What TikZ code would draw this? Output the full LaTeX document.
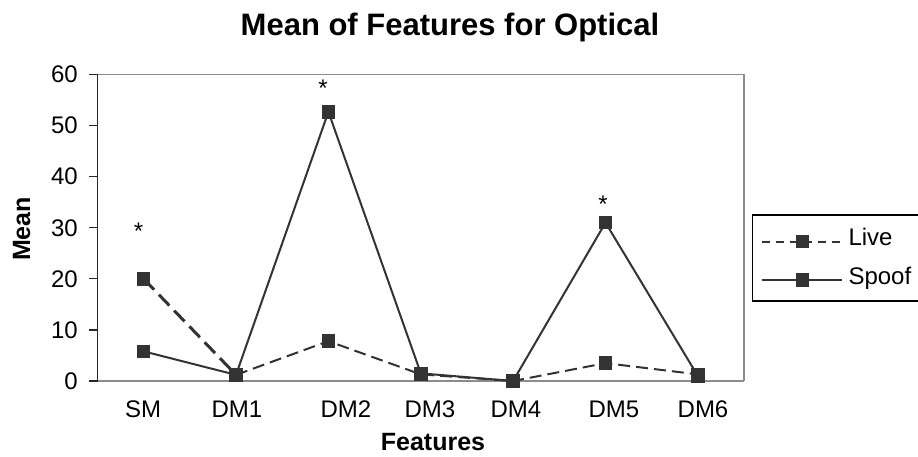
\documentclass[tikz,border=0pt]{standalone}
\usepackage{fontspec}
\setmainfont{Liberation Sans}
\definecolor{ink}{HTML}{333333}
\definecolor{frame}{HTML}{8C8C8C}
\begin{document}
\begin{tikzpicture}[x=1pt,y=-1pt,
  mk/.style={rectangle, fill=ink, minimum size=13.5pt, inner sep=0pt},
  liveline/.style={draw=ink, line width=2pt, line join=round, dash pattern=on 12pt off 6pt},
  spoofline/.style={draw=ink, line width=2pt, line join=round},
  lbl/.style={font=\fontsize{24}{28}\selectfont, inner sep=0pt},
  axlbl/.style={font=\fontsize{25}{30}\selectfont\bfseries, inner sep=0pt},
  star/.style={font=\fontsize{24}{28}\selectfont, inner sep=0pt, anchor=north}]
\useasboundingbox (0,0) rectangle (918,456);

% title
\node[font=\fontsize{31}{36}\selectfont\bfseries, inner sep=0pt, anchor=base] (title) at (450,35) {Mean of Features for Optical};

% plot frame
\draw[frame, line width=1.5pt] (97.5,74.5) -- (744,74.5) -- (744,381);
\draw[frame, line width=2pt] (97.5,381) -- (744,381);
\draw[black!85, line width=1.5pt] (97.5,74.5) -- (97.5,381);

% y ticks and labels
\foreach \v/\y in {0/381, 10/329.92, 20/278.84, 30/227.76, 40/176.68, 50/125.6, 60/74.5}{
  \draw[black!85, line width=1.3pt] (89,\y) -- (97.5,\y);
  \node[lbl, anchor=east] (y\v) at (78,\y) {\v};
}

% x labels
\node[lbl, anchor=base] (xSM)  at (143,417) {SM};
\node[lbl, anchor=base] (xDM1) at (237,417) {DM1};
\node[lbl, anchor=base] (xDM2) at (346,417) {DM2};
\node[lbl, anchor=base] (xDM3) at (430,417) {DM3};
\node[lbl, anchor=base] (xDM4) at (516,417) {DM4};
\node[lbl, anchor=base] (xDM5) at (614,417) {DM5};
\node[lbl, anchor=base] (xDM6) at (703,417) {DM6};

% axis titles
\node[axlbl, anchor=base] (xtitle) at (433,450.5) {Features};
\node[axlbl, anchor=base, rotate=90] (ytitle) at (30,229) {Mean};

% data points
\coordinate (l1) at (143.7,278.84);
\coordinate (l2) at (236.0,374.87);
\coordinate (l3) at (328.4,341.16);
\coordinate (l4) at (420.8,374.36);
\coordinate (l5) at (513.1,381);
\coordinate (l6) at (605.5,363.12);
\coordinate (l7) at (697.8,374.36);
\coordinate (s1) at (143.7,351.37);
\coordinate (s2) at (236.0,374.87);
\coordinate (s3) at (328.4,111.81);
\coordinate (s4) at (420.8,373.34);
\coordinate (s5) at (513.1,381);
\coordinate (s6) at (605.5,222.65);
\coordinate (s7) at (697.8,375.9);

% Spoof series
\draw[spoofline] (s1) -- (s2) -- (s3) -- (s4) -- (s5) -- (s6) -- (s7);
% Live series
\draw[liveline, line width=3pt, dash pattern=on 15pt off 7pt] (l1) -- (l2);
\draw[liveline] (l2) -- (l3) -- (l4) -- (l5) -- (l6) -- (l7);

% markers
\foreach \p in {l1,l2,l3,l4,l5,l6,l7,s1,s2,s3,s4,s5,s6,s7}{
  \node[mk] (m\p) at (\p) {};
}

% significance marks
\node[star] (st1) at (138.5,223) {*};
\node[star] (st2) at (323,80) {*};
\node[star] (st3) at (603,196) {*};

% legend
\draw[black, line width=1.2pt] (918,215) -- (752.3,215) -- (752.3,301) -- (918,301);
\coordinate (la) at (761.7,241.7);
\coordinate (lb) at (841.7,241.7);
\coordinate (sa) at (761.7,280);
\coordinate (sb) at (841.7,280);
\draw[liveline, dash pattern=on 8pt off 6pt] (la) -- (lb);
\draw[spoofline] (sa) -- (sb);
\node[mk] (legl) at (802.3,241.7) {};
\node[mk] (legs) at (802.3,280) {};
\node[lbl, anchor=base west] (tlive) at (848.3,245) {Live};
\node[lbl, anchor=base west] (tspoof) at (848.3,284) {Spoof};
\end{tikzpicture}
\end{document}
